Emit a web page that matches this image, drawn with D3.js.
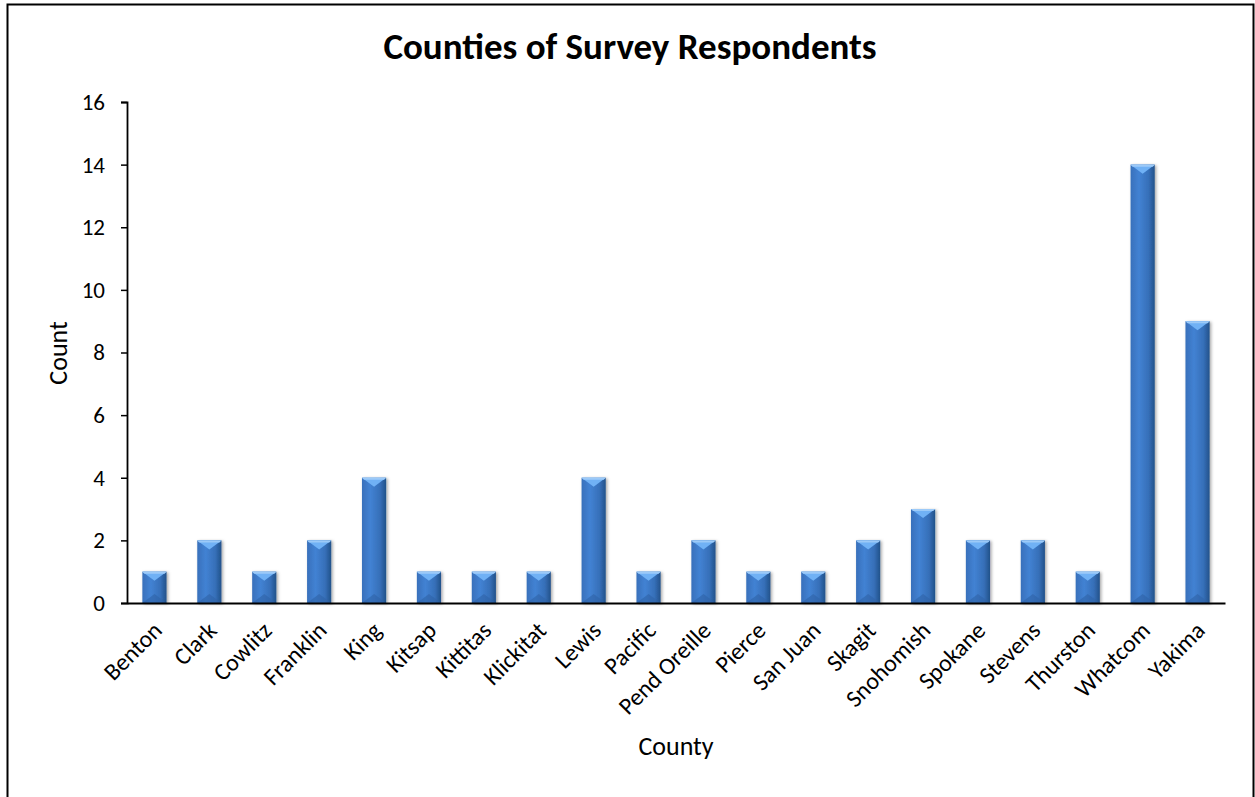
<!DOCTYPE html>
<html>
<head>
<meta charset="utf-8">
<script src="https://cdn.jsdelivr.net/npm/d3@7"></script>
<style>
  body { margin: 0; background: #fff; }
  text { font-family: Carlito, Calibri, "Open Sans", sans-serif; fill: #000; }
</style>
</head>
<body>
<svg id="chart" width="1255" height="797"></svg>
<script>
// data
const counties = ["Benton", "Clark", "Cowlitz", "Franklin", "King", "Kitsap", "Kittitas", "Klickitat",
    "Lewis", "Pacific", "Pend Oreille", "Pierce", "San Juan", "Skagit", "Snohomish", "Spokane",
    "Stevens", "Thurston", "Whatcom", "Yakima"];
const counts = [1, 2, 1, 2, 4, 1, 1, 1, 4, 1, 2, 1, 1, 2, 3, 2, 2, 1, 14, 9];
const yTicks = [0, 2, 4, 6, 8, 10, 12, 14, 16];

const svg = d3.select("#chart");
const margin = { left: 127, right: 30, top: 102, bottom: 194 };
const width = 1255, height = 797;

// outer frame
svg.append("path")
    .attr("d", "M7.5,797 V4.5 H1253.5 V797")
    .attr("fill", "none")
    .attr("stroke", "#000")
    .attr("stroke-width", 2);

const defs = svg.append("defs");
const grad = defs.append("linearGradient").attr("id", "barGrad")
    .attr("x1", "0%").attr("x2", "100%").attr("y1", "0%").attr("y2", "0%");
grad.append("stop").attr("offset", "0%").attr("stop-color", "#3870bb");
grad.append("stop").attr("offset", "35%").attr("stop-color", "#4282d3");
grad.append("stop").attr("offset", "75%").attr("stop-color", "#366fb8");
grad.append("stop").attr("offset", "100%").attr("stop-color", "#22528a");

const shadow = defs.append("filter").attr("id", "shadow")
    .attr("x", "-30%").attr("y", "-10%").attr("width", "160%").attr("height", "120%");
shadow.append("feDropShadow").attr("dx", 1.5).attr("dy", 1).attr("stdDeviation", 1.5)
    .attr("flood-color", "#000").attr("flood-opacity", 0.35);

const x = d3.scaleBand()
    .domain(counties)
    .range([margin.left, width - margin.right])
    .paddingInner(0.56)
    .paddingOuter(0.28);

const y = d3.scaleLinear()
    .domain([0, 16])
    .range([height - margin.bottom, margin.top]);

// bars
const bar = svg.append("g").selectAll("g")
    .data(counties)
    .enter()
    .append("g")
    .attr("filter", "url(#shadow)");

bar.append("rect")
    .attr("x", d => x(d))
    .attr("y", (d, i) => y(counts[i]))
    .attr("width", x.bandwidth())
    .attr("height", (d, i) => y(0) - y(counts[i]))
    .attr("fill", "url(#barGrad)");

// top bevel
bar.append("path")
    .attr("d", (d, i) => {
        const x0 = x(d), x1 = x0 + x.bandwidth(), t = y(counts[i]);
        return `M${x0},${t} L${x1},${t} L${(x0 + x1) / 2},${t + 9} Z`;
    })
    .attr("fill", "#6fb1f5");

bar.append("path")
    .attr("d", (d, i) => {
        const x0 = x(d), x1 = x0 + x.bandwidth(), t = y(counts[i]);
        return `M${x0},${t} L${x1},${t} L${x1 - 2},${t + 2} L${x0 + 2},${t + 2} Z`;
    })
    .attr("fill", "#9ccaf8");

// bottom bevel
bar.append("path")
    .attr("d", (d, i) => {
        const x0 = x(d), x1 = x0 + x.bandwidth(), b = y(0);
        return `M${x0},${b} L${x1},${b} L${(x0 + x1) / 2},${b - 9} Z`;
    })
    .attr("fill", "#2f62a6")
    .attr("opacity", 0.6);

// y axis
const yAxis = svg.append("g")
    .attr("transform", `translate(${margin.left},0)`)
    .call(d3.axisLeft(y).tickValues(yTicks).tickSize(6).tickPadding(16));
yAxis.selectAll("text").attr("font-size", 23);

// x axis
const xAxis = svg.append("g")
    .attr("transform", `translate(0,${y(0)})`)
    .call(d3.axisBottom(x).tickSize(0));
xAxis.selectAll("text")
    .attr("font-size", 24)
    .attr("text-anchor", "end")
    .attr("x", 0).attr("y", 0)
    .attr("dy", "0.35em")
    .attr("transform", "translate(3,23) rotate(-45)");

svg.selectAll(".domain").attr("stroke", "#000").attr("stroke-width", 1.8);
svg.selectAll(".tick line").attr("stroke", "#000").attr("stroke-width", 1.5);

// titles
svg.append("text")
    .text("Counties of Survey Respondents")
    .attr("x", 630).attr("y", 59)
    .attr("text-anchor", "middle")
    .attr("font-size", 37)
    .attr("font-weight", "bold");

svg.append("text")
    .text("Count")
    .attr("transform", "translate(67,353) rotate(-90)")
    .attr("text-anchor", "middle")
    .attr("font-size", 26);

svg.append("text")
    .text("County")
    .attr("x", 676).attr("y", 755)
    .attr("text-anchor", "middle")
    .attr("font-size", 26);
</script>
</body>
</html>
